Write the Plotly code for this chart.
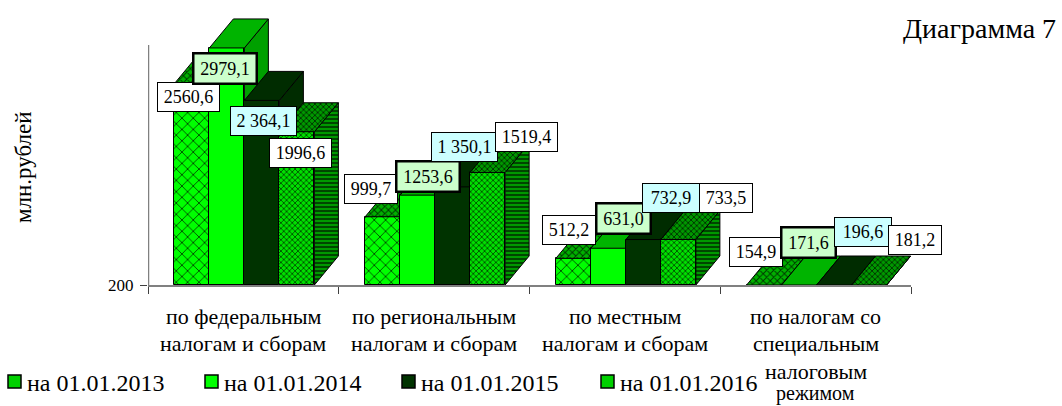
import plotly.graph_objects as go

CATEGORIES = [
    ["по федеральным", "налогам и сборам"],
    ["по региональным", "налогам и сборам"],
    ["по местным", "налогам и сборам"],
    ["по налогам со", "специальным", "налоговым", "режимом"],
]
SERIES_NAMES = ["на 01.01.2013", "на 01.01.2014", "на 01.01.2015", "на 01.01.2016"]
V2013 = [2560.6, 999.7, 512.2, 154.9]
V2014 = [2979.1, 1253.6, 631.0, 171.6]
V2015 = [2364.1, 1350.1, 732.9, 196.6]
V2016 = [1996.6, 1519.4, 733.5, 181.2]
LABELS_2013 = ["2560,6", "999,7", "512,2", "154,9"]
LABELS_2014 = ["2979,1", "1253,6", "631,0", "171,6"]
LABELS_2015 = ["2 364,1", "1 350,1", "732,9", "196,6"]
LABELS_2016 = ["1996,6", "1519,4", "733,5", "181,2"]
VALUES = [V2013, V2014, V2015, V2016]
LABELS = [LABELS_2013, LABELS_2014, LABELS_2015, LABELS_2016]

# layout constants (pixels of the 1062x406 page)
W, H = 1062, 406
L, R, T, B = 148, 911, 5, 285
BASE = 200
PX_PER_UNIT = 0.0853
BAR_W = 35 / 190.75
DEPTH_X = 24 / 190.75
DEPTH_Y = 29 / PX_PER_UNIT
NUDGE = 1 / 190.75
Y_TOP = BASE + (B - T) / PX_PER_UNIT
FONT = "Liberation Serif"

# label offsets from each bar's top-centre, screen pixels, per series then category
LABEL_SHIFTS = [
    [(-3.5, 13.4), (-12, -27.8), (-4.5, -28.4), (-8, -33)],
    [(-1.5, 21), (10, -19), (15, -30), (9, -43)],
    [(1.5, 20.6), (12, -40), (28, -41.6), (29, -53)],
    [(3.5, 21.2), (39, -35), (48, -41.5), (46, -45)],
]
STYLES = [
    dict(front=dict(bg="#00ff00", fg="#005000", shape="x", size=8, sol=0.22),
         top=dict(bg="#00b000", fg="#003800", shape="x", size=5, sol=0.35),
         side=dict(bg="#00a000", fg="#003800", shape="x", size=5, sol=0.35),
         box="#ffffff", bw=1, extra=0),
    dict(front=dict(bg="#00ff00"), top=dict(bg="#00b400"), side=dict(bg="#00a000"),
         box="#ccffcc", bw=2.5, extra=0),
    dict(front=dict(bg="#003300"), top=dict(bg="#002c00"), side=dict(bg="#002c00"),
         box="#ccffff", bw=1, extra=4),
    dict(front=dict(bg="#00e000", fg="#005000", shape="x", size=4, sol=0.4),
         top=dict(bg="#009800", fg="#003000", shape="x", size=4, sol=0.4),
         side=dict(bg="#009800", fg="#003000", shape="-", size=4, sol=0.4),
         box="#ffffff", bw=1, extra=0),
]


def px(x):
    return (x - L) / (R - L)


def py(y):
    return (B - y) / (B - T)


def pattern(st):
    if "fg" not in st:
        return dict(shape="", bgcolor=st["bg"])
    return dict(shape=st["shape"], bgcolor=st["bg"], fgcolor=st["fg"], size=st["size"],
                solidity=st["sol"], fillmode="replace")


def face(xs, ys, st, xa, ya):
    tr = dict(x=xs, y=ys, mode="lines", fill="toself", line=dict(color="#000000", width=1),
              hoverinfo="skip", showlegend=False, xaxis=xa, yaxis=ya, fillcolor=st["bg"])
    if "fg" in st:
        tr["fillpattern"] = pattern(st)
    return go.Scatter(**tr)


fig = go.Figure()
annotations = []
for j, (name, vals, labs) in enumerate(zip(SERIES_NAMES, VALUES, LABELS)):
    st = STYLES[j]
    xa = "x" if j == 0 else f"x{j + 1}"
    ya = "y" if j == 0 else f"y{j + 1}"
    centers = [i + 0.5 + (j - 1.5) * BAR_W + NUDGE for i in range(len(vals))]
    tops = [max(v, BASE) for v in vals]
    fig.add_trace(go.Bar(
        x=centers, y=[t - BASE for t in tops], base=BASE, width=BAR_W, name=name,
        marker=dict(color=st["front"]["bg"], pattern=pattern(st["front"]),
                    line=dict(color="#000000", width=1)),
        hoverinfo="skip", showlegend=False, xaxis=xa, yaxis=ya))
    for c, t in zip(centers, tops):
        x0, x1 = c - BAR_W / 2, c + BAR_W / 2
        fig.add_trace(face([x1, x1 + DEPTH_X, x1 + DEPTH_X, x1, x1],
                           [BASE, BASE + DEPTH_Y, t + DEPTH_Y, t, BASE], st["side"], xa, ya))
        fig.add_trace(face([x0, x1, x1 + DEPTH_X, x0 + DEPTH_X, x0],
                           [t, t, t + DEPTH_Y, t + DEPTH_Y, t], st["top"], xa, ya))
    for c, t, lab, (dx, dy) in zip(centers, tops, labs, LABEL_SHIFTS[j]):
        digits = len(lab.replace(" ", ""))
        annotations.append(dict(
            x=c, y=t, xref="x", yref="y", text=lab, showarrow=False,
            xanchor="center", yanchor="middle", xshift=dx, yshift=-dy,
            bgcolor=st["box"], bordercolor="#000000", borderwidth=st["bw"], borderpad=0,
            width=digits * 9 + 7 + st["extra"], height=28,
            font=dict(family=FONT, size=18, color="#000000")))

# category labels, one annotation per line
CAT_LINE_Y = [316, 343, 371, 393]
CAT_LINE_SIZE = [22, 22, 22, 20]
for i, lines in enumerate(CATEGORIES):
    for k, line in enumerate(lines):
        annotations.append(dict(x=i + 0.5, xref="x", y=py(CAT_LINE_Y[k]), yref="paper", text=line,
                                showarrow=False, xanchor="center", yanchor="middle",
                                font=dict(family=FONT, size=CAT_LINE_SIZE[k], color="#000000")))

# hand-placed legend: swatches and labels
shapes = [dict(type="line", xref="x", yref="y", x0=0, x1=0, y0=BASE, y1=3013,
               line=dict(color="#808080", width=2.5))]
SW_X = [8, 205, 402, 601]
SW_COL = ["#00d000", "#00ff00", "#003300", "#00d000"]
for x, col, name in zip(SW_X, SW_COL, SERIES_NAMES):
    shapes.append(dict(type="rect", xref="paper", yref="paper", x0=px(x), x1=px(x + 13),
                       y0=py(388), y1=py(375), fillcolor=col, line=dict(color="#000000", width=1.5)))
    annotations.append(dict(x=px(x + 17), xref="paper", y=py(383), yref="paper", text=name,
                            showarrow=False, xanchor="left", yanchor="middle",
                            font=dict(family=FONT, size=24, color="#000000")))

annotations.append(dict(x=px(1058), xref="paper", y=py(28), yref="paper", text="Диаграмма 7",
                        showarrow=False, xanchor="right", yanchor="middle",
                        font=dict(family=FONT, size=28, color="#000000")))
annotations.append(dict(x=px(24), xref="paper", y=py(167), yref="paper", text="млн.рублей",
                        showarrow=False, textangle=-90, xanchor="center", yanchor="middle",
                        font=dict(family=FONT, size=23, color="#000000")))

layout = dict(
    width=W, height=H, autosize=False, paper_bgcolor="#ffffff", plot_bgcolor="rgba(0,0,0,0)",
    margin=dict(l=L, r=W - R, t=T, b=H - B, pad=0), showlegend=False, barmode="overlay",
    bargap=0, annotations=annotations, shapes=shapes,
    xaxis=dict(range=[0, 4], tickvals=[0, 1, 2, 3, 4], ticktext=[""] * 5, ticks="outside", ticklen=7,
               tickcolor="#404040", showgrid=False, zeroline=False, showline=True,
               linecolor="#808080", linewidth=2, fixedrange=True),
    yaxis=dict(range=[BASE, Y_TOP], tickvals=[BASE], ticktext=["200"], ticks="outside", ticklen=7,
               tickcolor="#404040", showgrid=False, zeroline=False, showline=False,
               ticklabelstandoff=3,
               tickfont=dict(family=FONT, size=17, color="#000000"), fixedrange=True),
)
for j in range(2, 5):
    layout[f"xaxis{j}"] = dict(overlaying="x", range=[0, 4], visible=False)
    layout[f"yaxis{j}"] = dict(overlaying="y", range=[BASE, Y_TOP], visible=False)
fig.update_layout(**layout)
fig.write_html("out.html", config=dict(displayModeBar=False),
               post_script="document.body.style.margin='0';")
